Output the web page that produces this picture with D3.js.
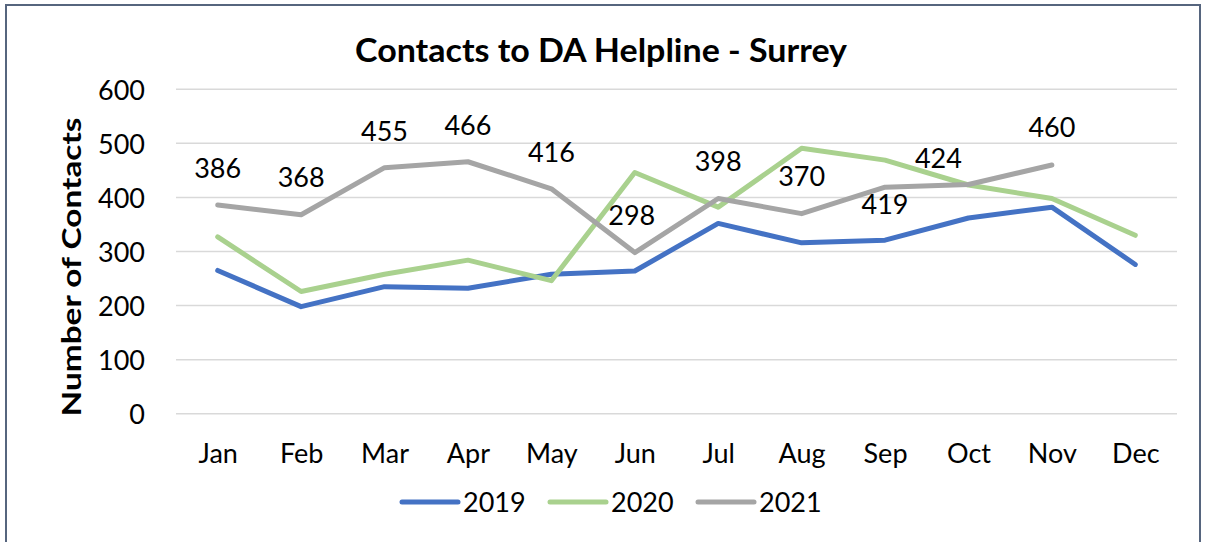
<!DOCTYPE html>
<html><head><meta charset="utf-8">
<script src="https://cdn.jsdelivr.net/npm/d3@7"></script>
<style>
html,body{margin:0;padding:0;background:#fff;}
svg{display:block;}
text{font-family:Lato,"Open Sans",sans-serif;fill:#000;}
</style></head>
<body>
<svg id="chart" width="1205" height="542"></svg>
<script>
const months = ["Jan","Feb","Mar","Apr","May","Jun","Jul","Aug","Sep","Oct","Nov","Dec"];
const values2019 = [265,198,235,232,258,264,352,316,321,362,382,276];
const values2020 = [327,226,258,284,246,446,382,491,469,423,398,330];
const values2021 = [386,368,455,466,416,298,398,370,419,424,460,null];
const seriesNames = ["2019","2020","2021"];
const seriesColors = ["#4472C4","#A9D18E","#A5A5A5"];
const yTicks = [0,100,200,300,400,500,600];
const titleText = "Contacts to DA Helpline - Surrey";
const yTitleText = "Number of Contacts";

const series = [values2019, values2020, values2021].map((v,i)=>({name:seriesNames[i], color:seriesColors[i], values:v}));

const FS = 27;
const svg = d3.select("#chart");
// frame
svg.append("rect").attr("x",6).attr("y",5).attr("width",1194).attr("height",560)
  .attr("fill","#fff").attr("stroke","#56657e").attr("stroke-width",2);

const x = d3.scalePoint().domain(months).range([176,1177]).padding(0.5);
const y = d3.scaleLinear().domain([0,600]).range([413.7,89.3]);

// gridlines
svg.append("g").selectAll("line").data(yTicks).join("line")
  .attr("x1",176).attr("x2",1177)
  .attr("y1",d=>y(d)).attr("y2",d=>y(d))
  .attr("stroke","#d9d9d9").attr("stroke-width",1.5);

// y axis labels
const yAxis = d3.axisLeft(y).tickValues(yTicks).tickSize(0).tickPadding(0);
const ya = svg.append("g").attr("transform","translate(145,0)").call(yAxis);
ya.select(".domain").remove();
ya.selectAll("text").attr("font-size",FS).attr("font-family","Lato").attr("fill","#000").attr("dy","0.36em").attr("x",0);

// x axis labels
const xAxis = d3.axisBottom(x).tickSize(0).tickPadding(0);
const xa = svg.append("g").attr("transform","translate(0,439)").call(xAxis);
xa.select(".domain").remove();
xa.selectAll("text").attr("font-size",FS).attr("font-family","Lato").attr("fill","#000").attr("dy","0.9em").attr("y",0);

// lines
const line = d3.line().defined(d=>d.v!=null).x(d=>x(d.m)).y(d=>y(d.v));
svg.append("g").selectAll("path").data(series).join("path")
  .attr("d",s=>line(s.values.map((v,i)=>({m:months[i],v}))))
  .attr("fill","none").attr("stroke",s=>s.color).attr("stroke-width",5)
  .attr("stroke-linejoin","round").attr("stroke-linecap","round");

// data labels for 2021
const labelDx = [0,0,0,0,0,-3,0,0,0,-30,0,0];
const labelDy = [-37,-37,-36,-36,-37,-37,-37,-37,17,-26,-38,0];
svg.append("g").selectAll("text").data(values2021.map((v,i)=>({v,i})).filter(d=>d.v!=null)).join("text")
  .attr("x",d=>x(months[d.i])+labelDx[d.i])
  .attr("y",d=>y(d.v)+labelDy[d.i])
  .attr("dy","0.36em").attr("text-anchor","middle").attr("font-size",FS)
  .text(d=>d.v);

// title
svg.append("text").attr("x",601).attr("y",62).attr("text-anchor","middle")
  .attr("font-size",33).attr("font-weight","bold")
  .attr("textLength",492).attr("lengthAdjust","spacingAndGlyphs").text(titleText);

// y title
svg.append("text").attr("transform","translate(81,267) rotate(-90)").attr("text-anchor","middle")
  .attr("font-size",FS).attr("font-weight","bold")
  .attr("textLength",299).attr("lengthAdjust","spacingAndGlyphs").text(yTitleText);

// legend
const legX = [402,550,698];
const lg = svg.append("g").selectAll("g").data(series).join("g")
  .attr("transform",(d,i)=>`translate(${legX[i]},502)`);
lg.append("line").attr("x1",0).attr("x2",56).attr("y1",0).attr("y2",0)
  .attr("stroke",d=>d.color).attr("stroke-width",5).attr("stroke-linecap","round");
lg.append("text").attr("x",61).attr("y",0).attr("dy","0.36em").attr("font-size",FS).text(d=>d.name);
</script>
</body></html>
